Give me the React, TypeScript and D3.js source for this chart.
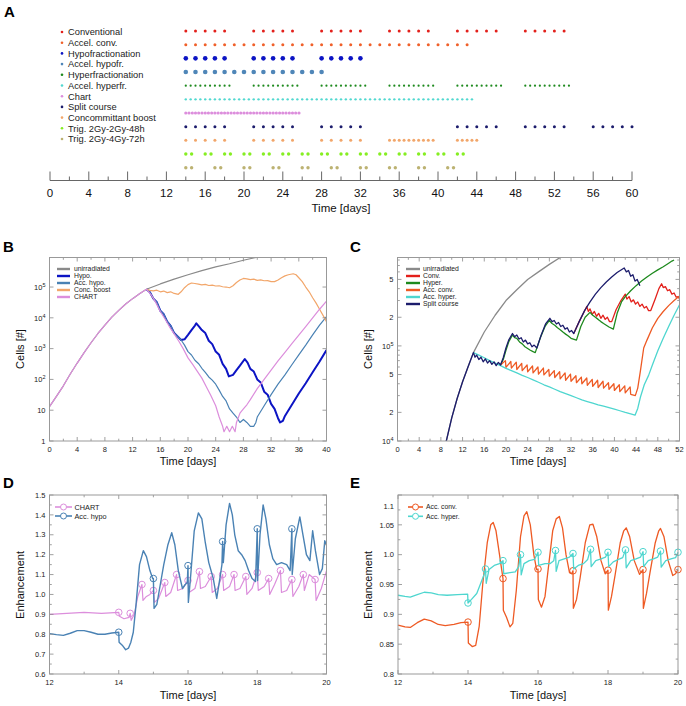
import React from 'react';
import * as d3 from 'd3';

type P = [number, number];

const FONT = '"Liberation Sans", Arial, Helvetica, sans-serif';

// ---------- Panel A: fraction schedules (days) ----------
const regimenLabels = [
  'Conventional', 'Accel. conv.', 'Hypofractionation', 'Accel. hypofr.', 'Hyperfractionation',
  'Accel. hyperfr.', 'Chart', 'Split course', 'Concommittant boost', 'Trig. 2Gy-2Gy-48h', 'Trig. 2Gy-4Gy-72h',
];
const regimenColors = [
  '#e3201b', '#f0602a', '#0c14c4', '#4f86b8', '#1e8a1e', '#52d8d0', '#dc8edc', '#1c1c6c', '#f2a66a', '#86ee22', '#bcb272',
];
const regimenDot = [1.5, 1.5, 2.3, 2.3, 1.1, 1.2, 1.6, 1.5, 1.5, 1.7, 1.7];

const conventional = [14, 15, 16, 17, 18, 21, 22, 23, 24, 25, 28, 29, 30, 31, 32, 35, 36, 37, 38, 39, 42, 43, 44, 45, 46, 49, 50, 51, 52, 53];
const accelConv = [14, 15, 16, 17, 18, 19, 20, 21, 22, 23, 24, 25, 26, 27, 28, 29, 30, 31, 32, 33, 34, 35, 36, 37, 38, 39, 40, 41, 42, 43];
const hypofrac = [14, 15, 16, 17, 18, 21, 22, 23, 24, 25, 28, 29, 30, 31, 32];
const accelHypo = [14, 15, 16, 17, 18, 19, 20, 21, 22, 23, 24, 25, 26, 27, 28];
const hyperfrac = [
  14, 14.5, 15, 15.5, 16, 16.5, 17, 17.5, 18, 18.5, 21, 21.5, 22, 22.5, 23, 23.5, 24, 24.5, 25, 25.5,
  28, 28.5, 29, 29.5, 30, 30.5, 31, 31.5, 32, 32.5, 35, 35.5, 36, 36.5, 37, 37.5, 38, 38.5, 39, 39.5,
  42, 42.5, 43, 43.5, 44, 44.5, 45, 45.5, 46, 46.5, 49, 49.5, 50, 50.5, 51, 51.5, 52, 52.5, 53, 53.5,
];
const accelHyper = [
  14, 14.5, 15, 15.5, 16, 16.5, 17, 17.5, 18, 18.5, 19, 19.5, 20, 20.5, 21, 21.5, 22, 22.5, 23, 23.5,
  24, 24.5, 25, 25.5, 26, 26.5, 27, 27.5, 28, 28.5, 29, 29.5, 30, 30.5, 31, 31.5, 32, 32.5, 33, 33.5,
  34, 34.5, 35, 35.5, 36, 36.5, 37, 37.5, 38, 38.5, 39, 39.5, 40, 40.5, 41, 41.5, 42, 42.5, 43, 43.5,
];
const chartSched = [
  14, 14.33, 14.67, 15, 15.33, 15.67, 16, 16.33, 16.67, 17, 17.33, 17.67, 18, 18.33, 18.67, 19, 19.33, 19.67,
  20, 20.33, 20.67, 21, 21.33, 21.67, 22, 22.33, 22.67, 23, 23.33, 23.67, 24, 24.33, 24.67, 25, 25.33, 25.67,
];
const splitCourse = [14, 15, 16, 17, 18, 21, 22, 23, 24, 25, 28, 29, 30, 31, 32, 42, 43, 44, 45, 46, 49, 50, 51, 52, 53, 56, 57, 58, 59, 60];
const concBoost = [14, 15, 16, 17, 18, 21, 22, 23, 24, 25, 28, 29, 30, 31, 32, 35, 35.5, 36, 36.5, 37, 37.5, 38, 38.5, 39, 39.5, 42, 42.5, 43, 43.5, 44];
const trig48 = [14, 14.6, 16, 16.6, 18, 18.6, 20, 20.6, 22, 22.6, 24, 24.6, 26, 26.6, 28, 28.6, 30, 30.6, 32, 32.6, 34, 34.6, 36, 36.6, 38, 38.6, 40, 40.6, 42, 42.6];
const trig72 = [14, 14.6, 17, 17.6, 20, 20.6, 23, 23.6, 26, 26.6, 29, 29.6, 32, 32.6, 35, 35.6, 38, 38.6, 41, 41.6];
const schedules = [conventional, accelConv, hypofrac, accelHypo, hyperfrac, accelHyper, chartSched, splitCourse, concBoost, trig48, trig72];

const aMajor = [0, 4, 8, 12, 16, 20, 24, 28, 32, 36, 40, 44, 48, 52, 56, 60];
const aMinor = [2, 6, 10, 14, 18, 22, 26, 30, 34, 38, 42, 46, 50, 54, 58];

// ---------- Panel B: cell numbers ----------
const bUnirr: P[] = [[0, 13], [1, 28], [2, 62], [3, 150], [4, 340], [5, 740], [6, 1550], [7, 3100], [8, 5800], [9, 1.05e4], [10, 1.75e4], [11, 2.8e4], [12, 4.2e4], [13, 6.0e4], [14, 8.5e4], [16, 1.26e5], [18, 1.8e5], [20, 2.5e5], [22, 3.4e5], [24, 4.5e5], [26, 5.7e5], [28, 7.4e5], [30, 9.3e5], [32, 1.1e6]];
const bHypo: P[] = [[14, 8.5e4], [14.5, 6.8e4], [15, 4.2e4], [15.5, 3.2e4], [16, 1.7e4], [16.5, 1.3e4], [17, 7500], [17.5, 5500], [18, 3200], [18.5, 2500], [19, 1900], [19.5, 2000], [20, 2800], [20.5, 4000], [21, 5600], [21.2, 6600], [21.6, 5200], [22, 4000], [22.5, 3200], [23, 1800], [23.5, 1400], [24, 800], [24.5, 630], [25, 320], [25.5, 220], [25.9, 125], [26.5, 140], [27, 200], [27.5, 280], [28.2, 460], [28.6, 350], [29, 220], [29.5, 180], [30, 100], [30.5, 80], [31, 40], [31.5, 32], [32, 16], [32.5, 11], [33, 5.5], [33.3, 4], [33.7, 4.5], [34, 6.5], [35, 15], [36, 35], [37, 75], [38, 170], [39, 380], [40, 900]];
const bAccHypo: P[] = [[14, 8.5e4], [14.5, 6.8e4], [15, 4.2e4], [15.5, 3.2e4], [16, 1.7e4], [16.5, 1.3e4], [17, 7500], [17.5, 5500], [18, 3200], [18.5, 2500], [19, 1900], [19.5, 1300], [20, 800], [20.5, 620], [21, 420], [21.5, 330], [22, 230], [22.5, 170], [23, 120], [23.5, 95], [24, 70], [24.5, 45], [25, 28], [25.5, 20], [26, 11], [26.5, 8], [27, 6], [27.5, 4], [28, 5], [28.5, 4], [29, 3], [29.5, 3], [29.8, 4], [30, 6], [31, 14], [32, 32], [33, 70], [34, 140], [35, 300], [36, 630], [37, 1300], [38, 2800], [39, 5800], [40, 1.1e4]];
const bBoost: P[] = [[14, 8.5e4], [14.5, 7.8e4], [15, 7.5e4], [15.5, 7.9e4], [16, 7.0e4], [16.5, 7.4e4], [17, 6.6e4], [17.5, 7.0e4], [18, 6.2e4], [18.6, 5.8e4], [19, 7.0e4], [19.5, 9.5e4], [20, 1.2e5], [20.5, 1.35e5], [21, 1.3e5], [21.5, 1.25e5], [22, 1.18e5], [22.5, 1.22e5], [23, 1.12e5], [23.5, 1.16e5], [24, 1.08e5], [24.5, 1.1e5], [25, 1.02e5], [25.5, 1.0e5], [26, 9.5e4], [26.5, 1.1e5], [27, 1.4e5], [27.5, 1.7e5], [28, 1.9e5], [28.5, 1.85e5], [29, 1.75e5], [29.5, 1.8e5], [30, 1.65e5], [30.5, 1.7e5], [31, 1.6e5], [31.5, 1.62e5], [32, 1.5e5], [32.5, 1.5e5], [33, 1.7e5], [33.5, 2.0e5], [34, 2.3e5], [34.5, 2.5e5], [35.2, 2.7e5], [35.6, 2.5e5], [36, 2.0e5], [36.5, 1.5e5], [37, 1.0e5], [37.5, 7e4], [38, 4.5e4], [38.5, 3e4], [39, 1.9e4], [39.5, 1.2e4], [40, 7500]];
const bChart: P[] = [[0, 13], [1, 28], [2, 62], [3, 150], [4, 340], [5, 740], [6, 1550], [7, 3100], [8, 5800], [9, 1.05e4], [10, 1.75e4], [11, 2.8e4], [12, 4.2e4], [13, 6.0e4], [14, 8.5e4], [14.7, 5.5e4], [15.3, 3.3e4], [16, 1.6e4], [16.7, 9000], [17.3, 5200], [18, 3000], [18.7, 1700], [19.3, 1000], [20, 500], [20.7, 300], [21.3, 190], [22, 110], [22.7, 55], [23.3, 30], [24, 14], [24.5, 6], [25, 3], [25.2, 2], [25.6, 3], [26, 2], [26.4, 3], [26.8, 2], [27, 4], [27.5, 8], [28, 11], [28.5, 15], [29, 22], [30, 50], [31, 100], [32, 200], [33, 400], [34, 760], [35, 1450], [36, 2750], [37, 5200], [38, 1.0e4], [39, 1.9e4], [40, 3.5e4]];

const bXMajor = [0, 4, 8, 12, 16, 20, 24, 28, 32, 36, 40];
const bXMinor = [2, 6, 10, 14, 18, 22, 26, 30, 34, 38];
const bYMajor = [1, 10, 100, 1000, 1e4, 1e5];

// ---------- Panel C ----------
const cUnirr: P[] = [[8, 6000], [9, 1.0e4], [10, 1.75e4], [11, 2.8e4], [12, 4.2e4], [13, 6.0e4], [14, 8.5e4], [16, 1.4e5], [18, 2.1e5], [20, 3.0e5], [22, 3.9e5], [24, 5.0e5], [26, 6.0e5], [28, 7.2e5], [30, 8.5e5], [32, 9.8e5]];
const cConv: P[] = [[32.5, 1.35e5], [33.5, 1.8e5], [34.9, 2.6e5], [35.2, 2.3e5], [35.5, 2.45e5], [35.9, 2.15e5], [36.3, 2.3e5], [36.7, 2.05e5], [37.1, 2.2e5], [37.5, 1.95e5], [37.9, 2.1e5], [38.3, 1.9e5], [38.7, 2.0e5], [39.1, 1.8e5], [39.5, 1.8e5], [40.3, 2.4e5], [41.2, 3.0e5], [42, 3.5e5], [42.3, 3.1e5], [42.7, 3.3e5], [43.1, 2.9e5], [43.5, 3.05e5], [43.9, 2.75e5], [44.3, 2.9e5], [44.7, 2.6e5], [45.1, 2.75e5], [45.5, 2.5e5], [45.9, 2.6e5], [46.3, 2.35e5], [46.7, 2.35e5], [47.5, 3.1e5], [48.2, 4.0e5], [48.7, 4.5e5], [49, 4.1e5], [49.4, 4.2e5], [49.8, 3.8e5], [50.2, 3.9e5], [50.6, 3.5e5], [51, 3.6e5], [51.4, 3.25e5], [51.8, 3.3e5], [52, 3.1e5]];
const cHyper: P[] = [[19, 6.3e4], [19.5, 7.2e4], [20, 9.0e4], [20.5, 1.1e5], [21.2, 1.3e5], [21.6, 1.22e5], [22, 1.2e5], [22.5, 1.1e5], [23, 1.05e5], [23.5, 9.8e4], [24, 9.4e4], [24.5, 9.0e4], [25, 8.7e4], [25.4, 8.5e4], [26.3, 1.2e5], [27.2, 1.6e5], [28, 1.85e5], [28.5, 1.72e5], [29, 1.65e5], [29.5, 1.55e5], [30, 1.48e5], [30.5, 1.4e5], [31, 1.33e5], [31.5, 1.27e5], [32, 1.2e5], [33, 1.15e5], [33.8, 1.6e5], [34.6, 2.0e5], [35.5, 2.25e5], [36, 2.1e5], [36.5, 2.0e5], [37, 1.9e5], [37.5, 1.8e5], [38, 1.72e5], [38.5, 1.65e5], [39, 1.58e5], [39.8, 1.5e5], [40.5, 2.2e5], [41.3, 2.9e5], [42, 3.3e5], [43, 3.8e5], [44, 4.3e5], [45, 4.8e5], [46, 5.3e5], [47, 5.8e5], [48, 6.3e5], [49, 6.8e5], [50, 7.4e5], [50.6, 7.8e5], [51, 8.0e5]];
const cAccConv: P[] = [[19, 6.3e4], [19.9, 7.0e4], [20, 5.95e4], [20.9, 6.85e4], [21, 5.85e4], [21.9, 6.75e4], [22, 5.65e4], [22.9, 6.55e4], [23, 5.5e4], [23.9, 6.3e4], [24, 5.35e4], [24.9, 6.15e4], [25, 5.2e4], [25.9, 6.0e4], [26, 5.05e4], [26.9, 5.85e4], [27, 4.95e4], [27.9, 5.65e4], [28, 4.8e4], [28.9, 5.5e4], [29, 4.65e4], [29.9, 5.35e4], [30, 4.5e4], [30.9, 5.2e4], [31, 4.35e4], [31.9, 5.05e4], [32, 4.25e4], [32.9, 4.85e4], [33, 4.1e4], [33.9, 4.7e4], [34, 4.0e4], [34.9, 4.6e4], [35, 3.85e4], [35.9, 4.45e4], [36, 3.75e4], [36.9, 4.35e4], [37, 3.65e4], [37.9, 4.25e4], [38, 3.6e4], [38.9, 4.1e4], [39, 3.5e4], [39.9, 4.0e4], [40, 3.4e4], [40.9, 3.9e4], [41, 3.3e4], [41.9, 3.8e4], [42, 3.2e4], [42.9, 3.7e4], [43, 3.1e4], [43.85, 3.0e4], [44.3, 3.6e4], [44.8, 5.5e4], [45.4, 9.5e4], [46, 1.15e5], [47, 1.55e5], [48, 1.95e5], [49, 2.3e5], [50, 2.65e5], [51, 3.0e5], [52, 3.35e5]];
const cAccHyper: P[] = [[14, 8.5e4], [15, 8.0e4], [16, 7.5e4], [17, 7.0e4], [18, 6.6e4], [19, 6.2e4], [20, 5.8e4], [21, 5.5e4], [22, 5.2e4], [23, 4.9e4], [24, 4.65e4], [25, 4.4e4], [26, 4.15e4], [27, 3.9e4], [28, 3.7e4], [29, 3.5e4], [30, 3.3e4], [31, 3.15e4], [32, 3.0e4], [33, 2.85e4], [34, 2.7e4], [35, 2.6e4], [36, 2.5e4], [37, 2.4e4], [38, 2.32e4], [39, 2.24e4], [40, 2.16e4], [41, 2.08e4], [42, 2.0e4], [43, 1.93e4], [43.8, 1.87e4], [44.3, 2.2e4], [44.8, 2.9e4], [45.5, 3.9e4], [46.3, 4.9e4], [47, 6.3e4], [48, 8.9e4], [49, 1.2e5], [50, 1.6e5], [51, 2.1e5], [52, 2.7e5]];
const cSplit: P[] = [[8, 6000], [9, 1.0e4], [10, 1.75e4], [11, 2.8e4], [12, 4.2e4], [13, 6.0e4], [14, 8.5e4], [14.3, 7.6e4], [14.6, 8.0e4], [15, 7.2e4], [15.4, 7.6e4], [15.8, 6.8e4], [16.2, 7.3e4], [16.6, 6.6e4], [17, 7.0e4], [17.4, 6.4e4], [17.8, 6.8e4], [18.2, 6.2e4], [18.6, 6.7e4], [19, 6.3e4], [19.5, 7.5e4], [20, 9.5e4], [20.5, 1.15e5], [21.2, 1.35e5], [21.6, 1.25e5], [22, 1.3e5], [22.4, 1.18e5], [22.8, 1.22e5], [23.2, 1.1e5], [23.6, 1.15e5], [24, 1.05e5], [24.4, 1.08e5], [24.8, 9.8e4], [25.2, 1.02e5], [25.7, 9.5e4], [26.5, 1.3e5], [27.3, 1.7e5], [28.1, 1.95e5], [28.5, 1.8e5], [28.9, 1.85e5], [29.3, 1.7e5], [29.7, 1.76e5], [30.1, 1.6e5], [30.5, 1.65e5], [30.9, 1.5e5], [31.3, 1.55e5], [31.7, 1.4e5], [32.1, 1.45e5], [32.5, 1.35e5], [33.5, 1.8e5], [34.5, 2.35e5], [35.5, 2.9e5], [36.5, 3.5e5], [37.5, 4.1e5], [38.5, 4.7e5], [39.5, 5.3e5], [40.5, 5.9e5], [41.8, 6.6e5], [42.2, 6.0e5], [42.6, 6.2e5], [43, 5.4e5], [43.4, 5.6e5], [43.8, 4.8e5], [44.2, 5.0e5], [44.7, 4.3e5]];

const cXMajor = [0, 4, 8, 12, 16, 20, 24, 28, 32, 36, 40, 44, 48, 52];
const cXMinor = [2, 6, 10, 14, 18, 22, 26, 30, 34, 38, 42, 46, 50];
const cYMajor = [1e4, 2e4, 5e4, 1e5, 2e5, 5e5];
const cYMinor = [3e4, 4e4, 6e4, 7e4, 8e4, 9e4, 3e5, 4e5, 6e5, 7e5, 8e5];

// ---------- Panel D: enhancement ----------
const dChart: P[] = [[12, 0.9], [12.5, 0.905], [13, 0.91], [13.5, 0.905], [14, 0.91], [14.02, 0.89], [14.15, 0.878], [14.3, 0.885], [14.33, 0.905], [14.36, 0.87], [14.45, 0.9], [14.55, 0.99], [14.67, 1.05], [14.7, 0.97], [14.8, 0.99], [14.9, 1.0], [15, 1.02], [15.03, 0.96], [15.15, 0.98], [15.33, 1.06], [15.36, 0.99], [15.5, 1.01], [15.67, 1.1], [15.7, 1.02], [15.85, 1.03], [16, 1.07], [16.03, 1.01], [16.2, 1.03], [16.33, 1.115], [16.36, 1.03], [16.5, 1.04], [16.67, 1.09], [16.7, 1.01], [16.85, 1.03], [17, 1.1], [17.03, 1.02], [17.2, 1.04], [17.33, 1.1], [17.36, 1.02], [17.5, 1.03], [17.67, 1.09], [17.7, 1.0], [17.85, 1.03], [18, 1.11], [18.03, 1.02], [18.2, 1.04], [18.33, 1.08], [18.36, 1.0], [18.5, 1.05], [18.67, 1.12], [18.7, 1.01], [18.85, 1.02], [19, 1.075], [19.03, 0.99], [19.2, 1.04], [19.33, 1.1], [19.36, 1.02], [19.5, 1.1], [19.67, 1.075], [19.7, 0.97], [19.85, 1.03], [20, 1.12]];
const dChartMarks: P[] = [[14, 0.91], [14.33, 0.905], [14.67, 1.05], [15, 1.02], [15.33, 1.06], [15.67, 1.1], [16, 1.07], [16.33, 1.115], [16.67, 1.09], [17, 1.1], [17.33, 1.1], [17.67, 1.09], [18, 1.11], [18.33, 1.08], [18.67, 1.12], [19, 1.075], [19.33, 1.1], [19.67, 1.075]];
const dAccHypo: P[] = [[12, 0.803], [12.2, 0.798], [12.4, 0.794], [12.6, 0.805], [12.8, 0.818], [13, 0.818], [13.2, 0.81], [13.4, 0.8], [13.6, 0.8], [13.8, 0.806], [14, 0.81], [14.01, 0.76], [14.1, 0.745], [14.2, 0.722], [14.28, 0.73], [14.35, 0.76], [14.42, 0.81], [14.5, 0.95], [14.6, 1.15], [14.71, 1.22], [14.8, 1.19], [14.9, 1.12], [14.98, 1.08], [15, 1.08], [15.02, 0.93], [15.1, 0.95], [15.2, 1.05], [15.3, 1.15], [15.42, 1.25], [15.53, 1.31], [15.62, 1.25], [15.72, 1.12], [15.84, 1.03], [15.92, 1.05], [15.98, 1.06], [16, 1.145], [16.01, 0.96], [16.08, 1.1], [16.18, 1.32], [16.3, 1.41], [16.4, 1.38], [16.5, 1.26], [16.6, 1.16], [16.73, 1.08], [16.83, 0.98], [16.92, 1.08], [16.98, 1.15], [17, 1.266], [17.02, 1.16], [17.1, 1.35], [17.2, 1.458], [17.28, 1.4], [17.35, 1.3], [17.45, 1.22], [17.55, 1.2], [17.65, 1.17], [17.75, 1.12], [17.85, 1.08], [17.95, 1.065], [18, 1.33], [18.01, 1.07], [18.08, 1.3], [18.17, 1.45], [18.25, 1.38], [18.35, 1.25], [18.45, 1.18], [18.56, 1.15], [18.7, 1.16], [18.85, 1.15], [18.95, 1.12], [19, 1.33], [19.01, 1.1], [19.1, 1.28], [19.23, 1.39], [19.32, 1.3], [19.42, 1.2], [19.52, 1.17], [19.6, 1.32], [19.68, 1.22], [19.8, 1.1], [19.88, 1.13], [19.95, 1.27], [20, 1.25]];
const dAccHypoMarks: P[] = [[14, 0.81], [15, 1.08], [16, 1.145], [17, 1.266], [18, 1.33], [19, 1.33]];

const dXMajor = [12, 14, 16, 18, 20];
const dXMinor = [13, 15, 17, 19];
const dYMajor = [0.6, 0.7, 0.8, 0.9, 1.0, 1.1, 1.2, 1.3, 1.4, 1.5];
const dYMinor = [0.65, 0.75, 0.85, 0.95, 1.05, 1.15, 1.25, 1.35, 1.45];

// ---------- Panel E ----------
const eAccConv: P[] = [[12, 0.882], [12.2, 0.879], [12.35, 0.878], [12.55, 0.886], [12.75, 0.892], [12.95, 0.889], [13.15, 0.883], [13.35, 0.881], [13.6, 0.883], [13.8, 0.886], [14, 0.887], [14.01, 0.852], [14.12, 0.846], [14.22, 0.848], [14.32, 0.88], [14.42, 0.95], [14.55, 1.02], [14.65, 1.05], [14.72, 1.054], [14.8, 1.04], [14.9, 1.0], [15, 0.96], [15.01, 0.907], [15.1, 0.895], [15.2, 0.879], [15.28, 0.885], [15.38, 0.94], [15.5, 1.03], [15.6, 1.065], [15.68, 1.072], [15.78, 1.05], [15.88, 1.0], [15.96, 0.975], [16, 0.976], [16.01, 0.925], [16.1, 0.912], [16.2, 0.93], [16.3, 0.98], [16.42, 1.04], [16.52, 1.06], [16.61, 1.064], [16.7, 1.045], [16.8, 1.0], [16.9, 0.97], [16.96, 0.968], [17, 0.973], [17.01, 0.91], [17.1, 0.925], [17.2, 0.96], [17.35, 1.02], [17.48, 1.05], [17.57, 1.051], [17.68, 1.03], [17.8, 0.99], [17.92, 0.968], [18, 0.974], [18.01, 0.907], [18.1, 0.93], [18.2, 0.965], [18.35, 1.02], [18.45, 1.04], [18.52, 1.045], [18.62, 1.03], [18.75, 0.99], [18.9, 0.967], [19, 0.975], [19.01, 0.91], [19.1, 0.935], [19.2, 0.97], [19.35, 1.02], [19.45, 1.04], [19.5, 1.044], [19.6, 1.03], [19.72, 0.99], [19.85, 0.965], [19.93, 0.968], [20, 0.975]];
const eAccConvMarks: P[] = [[14, 0.887], [15, 0.96], [16, 0.976], [17, 0.973], [18, 0.974], [19, 0.975], [20, 0.975]];
const eAccHyper: P[] = [[12, 0.932], [12.2, 0.93], [12.35, 0.929], [12.55, 0.933], [12.75, 0.937], [12.95, 0.936], [13.15, 0.933], [13.4, 0.932], [13.7, 0.933], [13.99, 0.934], [14, 0.919], [14.1, 0.925], [14.25, 0.935], [14.35, 0.95], [14.45, 0.965], [14.5, 0.976], [14.52, 0.952], [14.6, 0.975], [14.75, 0.982], [14.9, 0.985], [15, 0.99], [15.02, 0.968], [15.2, 0.97], [15.35, 0.971], [15.45, 0.98], [15.5, 1.0], [15.52, 0.966], [15.6, 0.985], [15.75, 0.99], [15.9, 0.992], [16, 1.004], [16.02, 0.982], [16.2, 0.985], [16.35, 0.985], [16.45, 0.99], [16.5, 1.007], [16.52, 0.972], [16.6, 0.99], [16.75, 0.993], [16.9, 0.996], [17, 1.002], [17.02, 0.976], [17.15, 0.982], [17.3, 0.985], [17.42, 0.992], [17.5, 1.009], [17.52, 0.98], [17.65, 0.99], [17.8, 0.993], [17.93, 0.996], [18, 1.004], [18.02, 0.98], [18.15, 0.988], [18.3, 0.992], [18.42, 0.995], [18.5, 1.008], [18.52, 0.978], [18.65, 0.99], [18.8, 0.993], [18.93, 0.996], [19, 1.005], [19.02, 0.98], [19.15, 0.99], [19.3, 0.993], [19.42, 0.996], [19.5, 1.006], [19.52, 0.979], [19.65, 0.99], [19.8, 0.993], [19.93, 0.995], [20, 1.004]];
const eAccHyperMarks: P[] = [[14, 0.919], [14.5, 0.976], [15, 0.99], [15.5, 1.0], [16, 1.004], [16.5, 1.007], [17, 1.002], [17.5, 1.009], [18, 1.004], [18.5, 1.008], [19, 1.005], [19.5, 1.006], [20, 1.004]];

const eYMajor = [0.8, 0.85, 0.9, 0.95, 1.0, 1.05, 1.1];
const eYMinor = [0.825, 0.875, 0.925, 0.975, 1.025, 1.075];

// ---------- colours ----------
const GRAY = '#8a8a8a';
const C_CONV = '#e3201b';
const C_HYPER = '#1e8a1e';
const C_ACCCONV = '#ee5a24';
const C_ACCHYPER = '#4ed6cf';
const C_SPLIT = '#1c1c6c';
const C_HYPO = '#0c14c4';
const C_ACCHYPO = '#4a82b4';
const C_BOOST = '#f2a66a';
const C_CHART = '#dc8edc';

type Scale = (v: number) => number;

function Frame(props: {
  x: d3.ScaleLinear<number, number>;
  y: any;
  xMajor: number[];
  xMinor: number[];
  yMajor: number[];
  yMinor: number[];
  yFmt: (v: number) => React.ReactNode;
  yShift?: (v: number) => number;
}) {
  const { x, y, xMajor, xMinor, yMajor, yMinor, yFmt, yShift } = props;
  const [x0, x1] = x.range();
  const [y0, y1] = y.range();
  const M = 4;
  const m = 2.3;
  const tk = { stroke: '#888', strokeWidth: 0.8 };
  return (
    <g fontFamily={FONT} fontSize={7.5} fill="#222">
      {xMajor.map((t) => (
        <g key={'xM' + t}>
          <line x1={x(t)} x2={x(t)} y1={y0} y2={y0 - M} {...tk} />
          <line x1={x(t)} x2={x(t)} y1={y1} y2={y1 + M} {...tk} />
          <text x={x(t)} y={y0 + 10.5} textAnchor="middle">{t}</text>
        </g>
      ))}
      {xMinor.map((t) => (
        <g key={'xm' + t}>
          <line x1={x(t)} x2={x(t)} y1={y0} y2={y0 - m} {...tk} />
          <line x1={x(t)} x2={x(t)} y1={y1} y2={y1 + m} {...tk} />
        </g>
      ))}
      {yMajor.map((t) => (
        <g key={'yM' + t}>
          <line x1={x0} x2={x0 + M} y1={y(t)} y2={y(t)} {...tk} />
          <line x1={x1} x2={x1 - M} y1={y(t)} y2={y(t)} {...tk} />
          <text x={x0 - 4} y={y(t) + 2.7 + (yShift ? yShift(t) : 0)} textAnchor="end">{yFmt(t)}</text>
        </g>
      ))}
      {yMinor.map((t) => (
        <g key={'ym' + t}>
          <line x1={x0} x2={x0 + m} y1={y(t)} y2={y(t)} {...tk} />
          <line x1={x1} x2={x1 - m} y1={y(t)} y2={y(t)} {...tk} />
        </g>
      ))}
      <rect x={x0} y={y1} width={x1 - x0} height={y0 - y1} fill="none" stroke="#999" strokeWidth={1} />
    </g>
  );
}

function pow10(v: number) {
  const e = Math.round(Math.log10(v));
  if (e === 0) return '1';
  if (e === 1) return '10';
  return (
    <>
      <tspan>10</tspan>
      <tspan dy={-3} fontSize={5.5}>{e}</tspan>
    </>
  );
}

function Titles(props: { cx: number; xy: number; yx: number; cy: number; xTitle: string; yTitle: string }) {
  const { cx, xy, yx, cy, xTitle, yTitle } = props;
  return (
    <g fontFamily={FONT} fontSize={11} fill="#111">
      <text x={cx} y={xy} textAnchor="middle">{xTitle}</text>
      <text transform={`translate(${yx},${cy}) rotate(-90)`} textAnchor="middle">{yTitle}</text>
    </g>
  );
}

function LineLegend(props: { items: { label: string; color: string }[]; x0: number; x1: number; tx: number; y0: number; dy: number; marker?: boolean; fs: number }) {
  const { items, x0, x1, tx, y0, dy, marker, fs } = props;
  return (
    <g fontFamily={FONT} fontSize={fs} fill="#222">
      {items.map((it, i) => {
        const yy = y0 + i * dy;
        return (
          <g key={it.label}>
            <line x1={x0} x2={x1} y1={yy} y2={yy} stroke={it.color} strokeWidth={marker ? 1.6 : 2.4} />
            {marker && <circle cx={(x0 + x1) / 2} cy={yy} r={3} fill="#fff" stroke={it.color} strokeWidth={1} />}
            <text x={tx} y={yy + fs * 0.36}>{it.label}</text>
          </g>
        );
      })}
    </g>
  );
}

function PanelLabel({ x, y, t }: { x: number; y: number; t: string }) {
  return (
    <text x={x} y={y} fontFamily={FONT} fontWeight="bold" fontSize={15} fill="#000">{t}</text>
  );
}

function pathOf(data: P[], x: Scale, y: Scale) {
  return d3.line<P>().x((d) => x(d[0])).y((d) => y(d[1]))(data) || '';
}

function PanelA() {
  const x = d3.scaleLinear().domain([0, 60]).range([50, 632]);
  const rowY = d3.scaleLinear().domain([0, 10]).range([31, 167.7]);
  const legY = d3.scaleLinear().domain([0, 10]).range([32, 139]);
  const axisY = 180.5;
  return (
    <g>
      <PanelLabel x={4} y={17} t="A" />
      <g fontFamily={FONT} fontSize={9.3} fill="#222">
        {regimenLabels.map((l, i) => (
          <g key={l}>
            <circle cx={62} cy={legY(i)} r={1.3} fill={regimenColors[i]} />
            <text x={68} y={legY(i) + 3.3}>{l}</text>
          </g>
        ))}
      </g>
      {schedules.map((s, i) => (
        <g key={'row' + i} fill={regimenColors[i]}>
          {s.map((d, j) => (
            <circle key={j} cx={x(d)} cy={rowY(i)} r={regimenDot[i]} />
          ))}
        </g>
      ))}
      <line x1={x(0)} x2={x(60)} y1={axisY} y2={axisY} stroke="#666" strokeWidth={1} />
      {aMajor.map((t) => (
        <g key={'a' + t}>
          <line x1={x(t)} x2={x(t)} y1={axisY} y2={axisY - 9} stroke="#666" strokeWidth={1} />
          <text x={x(t)} y={197} textAnchor="middle" fontFamily={FONT} fontSize={11.5} fill="#111">{t}</text>
        </g>
      ))}
      {aMinor.map((t) => (
        <line key={'am' + t} x1={x(t)} x2={x(t)} y1={axisY} y2={axisY - 4} stroke="#666" strokeWidth={1} />
      ))}
      <text x={x(30)} y={211.5} textAnchor="middle" fontFamily={FONT} fontSize={11.5} fill="#111">Time [days]</text>
    </g>
  );
}

function PanelB() {
  const x = d3.scaleLinear().domain([0, 40]).range([49.5, 326.5]);
  const y = d3.scaleLog().domain([1, 9.1e5]).range([441, 257.5]);
  const series = [
    { d: bUnirr, c: GRAY, w: 1.2 },
    { d: bHypo, c: C_HYPO, w: 2 },
    { d: bAccHypo, c: C_ACCHYPO, w: 1.2 },
    { d: bBoost, c: C_BOOST, w: 1.2 },
    { d: bChart, c: C_CHART, w: 1.2 },
  ];
  return (
    <g>
      <PanelLabel x={3} y={252} t="B" />
      <defs>
        <clipPath id="clipB"><rect x={49.5} y={257.5} width={277} height={183.5} /></clipPath>
      </defs>
      <g clipPath="url(#clipB)" fill="none" strokeLinejoin="round">
        {series.map((s, i) => (
          <path key={i} d={pathOf(s.d, x, y)} stroke={s.c} strokeWidth={s.w} />
        ))}
      </g>
      <Frame x={x} y={y} xMajor={bXMajor} xMinor={bXMinor} yMajor={bYMajor} yMinor={[]} yFmt={pow10} />
      <LineLegend
        items={[
          { label: 'unirradiated', color: GRAY },
          { label: 'Hypo.', color: C_HYPO },
          { label: 'Acc. hypo.', color: C_ACCHYPO },
          { label: 'Conc. boost', color: C_BOOST },
          { label: 'CHART', color: C_CHART },
        ]}
        x0={57} x1={70} tx={74} y0={269} dy={7} fs={6.8}
      />
      <Titles cx={188} xy={465} yx={24} cy={349} xTitle="Time [days]" yTitle="Cells [#]" />
    </g>
  );
}

function PanelC() {
  const x = d3.scaleLinear().domain([0, 52]).range([397.5, 679.5]);
  const y = d3.scaleLog().domain([1e4, 8.5e5]).range([441, 257.5]);
  const series = [
    { d: cUnirr, c: GRAY },
    { d: cConv, c: C_CONV },
    { d: cHyper, c: C_HYPER },
    { d: cAccConv, c: C_ACCCONV },
    { d: cAccHyper, c: C_ACCHYPER },
    { d: cSplit, c: C_SPLIT },
  ];
  const fmt = (v: number) => {
    const e = Math.log10(v);
    if (Math.abs(e - Math.round(e)) < 1e-9) return pow10(v);
    return String(Math.round(v / Math.pow(10, Math.floor(e))));
  };
  return (
    <g>
      <PanelLabel x={350} y={252} t="C" />
      <defs>
        <clipPath id="clipC"><rect x={397.5} y={257.5} width={282} height={183.5} /></clipPath>
      </defs>
      <g clipPath="url(#clipC)" fill="none" strokeLinejoin="round">
        {series.map((s, i) => (
          <path key={i} d={pathOf(s.d, x, y)} stroke={s.c} strokeWidth={1.3} />
        ))}
      </g>
      <Frame x={x} y={y} xMajor={cXMajor} xMinor={cXMinor} yMajor={cYMajor} yMinor={cYMinor} yFmt={fmt} />
      <LineLegend
        items={[
          { label: 'unirradiated', color: GRAY },
          { label: 'Conv.', color: C_CONV },
          { label: 'Hyper.', color: C_HYPER },
          { label: 'Acc. conv.', color: C_ACCCONV },
          { label: 'Acc. hyper.', color: C_ACCHYPER },
          { label: 'Split course', color: C_SPLIT },
        ]}
        x0={406} x1={420} tx={423} y0={269} dy={7} fs={6.8}
      />
      <Titles cx={538} xy={465} yx={372} cy={349} xTitle="Time [days]" yTitle="Cells [#]" />
    </g>
  );
}

function Marks({ d, x, y, c }: { d: P[]; x: Scale; y: Scale; c: string }) {
  return (
    <g fill="none" stroke={c} strokeWidth={1}>
      {d.map((p, i) => <circle key={i} cx={x(p[0])} cy={y(p[1])} r={3.3} />)}
    </g>
  );
}

function PanelD() {
  const x = d3.scaleLinear().domain([12, 20]).range([49.5, 326.5]);
  const y = d3.scaleLinear().domain([0.6, 1.5]).range([674, 495]);
  return (
    <g>
      <PanelLabel x={3} y={488} t="D" />
      <g fill="none" strokeLinejoin="round">
        <path d={pathOf(dChart, x, y)} stroke={C_CHART} strokeWidth={1.2} />
        <Marks d={dChartMarks} x={x} y={y} c={C_CHART} />
        <path d={pathOf(dAccHypo, x, y)} stroke={C_ACCHYPO} strokeWidth={1.4} />
        <Marks d={dAccHypoMarks} x={x} y={y} c={C_ACCHYPO} />
      </g>
      <Frame x={x} y={y} xMajor={dXMajor} xMinor={dXMinor} yMajor={dYMajor} yMinor={dYMinor} yFmt={(v) => d3.format('.1f')(v)} />
      <LineLegend
        items={[
          { label: 'CHART', color: C_CHART },
          { label: 'Acc. hypo', color: C_ACCHYPO },
        ]}
        x0={55} x1={72} tx={74.5} y0={507} dy={9} marker fs={7.3}
      />
      <Titles cx={188} xy={699} yx={24} cy={585} xTitle="Time [days]" yTitle="Enhancement" />
    </g>
  );
}

function PanelE() {
  const x = d3.scaleLinear().domain([12, 20]).range([398, 678]);
  const y = d3.scaleLinear().domain([0.8, 1.1]).range([674, 495]);
  const fmt = (v: number) => {
    const s = d3.format('.2f')(v);
    return s.endsWith('0') ? s.slice(0, -1) : s;
  };
  return (
    <g>
      <PanelLabel x={350} y={488} t="E" />
      <g fill="none" strokeLinejoin="round">
        <path d={pathOf(eAccConv, x, y)} stroke={C_ACCCONV} strokeWidth={1.3} />
        <Marks d={eAccConvMarks} x={x} y={y} c={C_ACCCONV} />
        <path d={pathOf(eAccHyper, x, y)} stroke={C_ACCHYPER} strokeWidth={1.3} />
        <Marks d={eAccHyperMarks} x={x} y={y} c={C_ACCHYPER} />
      </g>
      <Frame
        x={x} y={y} xMajor={dXMajor} xMinor={dXMinor} yMajor={eYMajor} yMinor={eYMinor} yFmt={fmt}
        yShift={(v) => (v > 1.09 ? 11 : 0)}
      />
      <LineLegend
        items={[
          { label: 'Acc. conv.', color: C_ACCCONV },
          { label: 'Acc. hyper.', color: C_ACCHYPER },
        ]}
        x0={408} x1={423} tx={426} y0={507} dy={9.3} marker fs={6.8}
      />
      <Titles cx={538} xy={699} yx={372} cy={585} xTitle="Time [days]" yTitle="Enhancement" />
    </g>
  );
}

export default function App() {
  return (
    <svg
      width={686}
      height={706}
      viewBox="0 0 686 706"
      style={{ position: 'absolute', left: 0, top: 0, background: '#fff' }}
    >
      <rect width={686} height={706} fill="#fff" />
      <PanelA />
      <PanelB />
      <PanelC />
      <PanelD />
      <PanelE />
    </svg>
  );
}
